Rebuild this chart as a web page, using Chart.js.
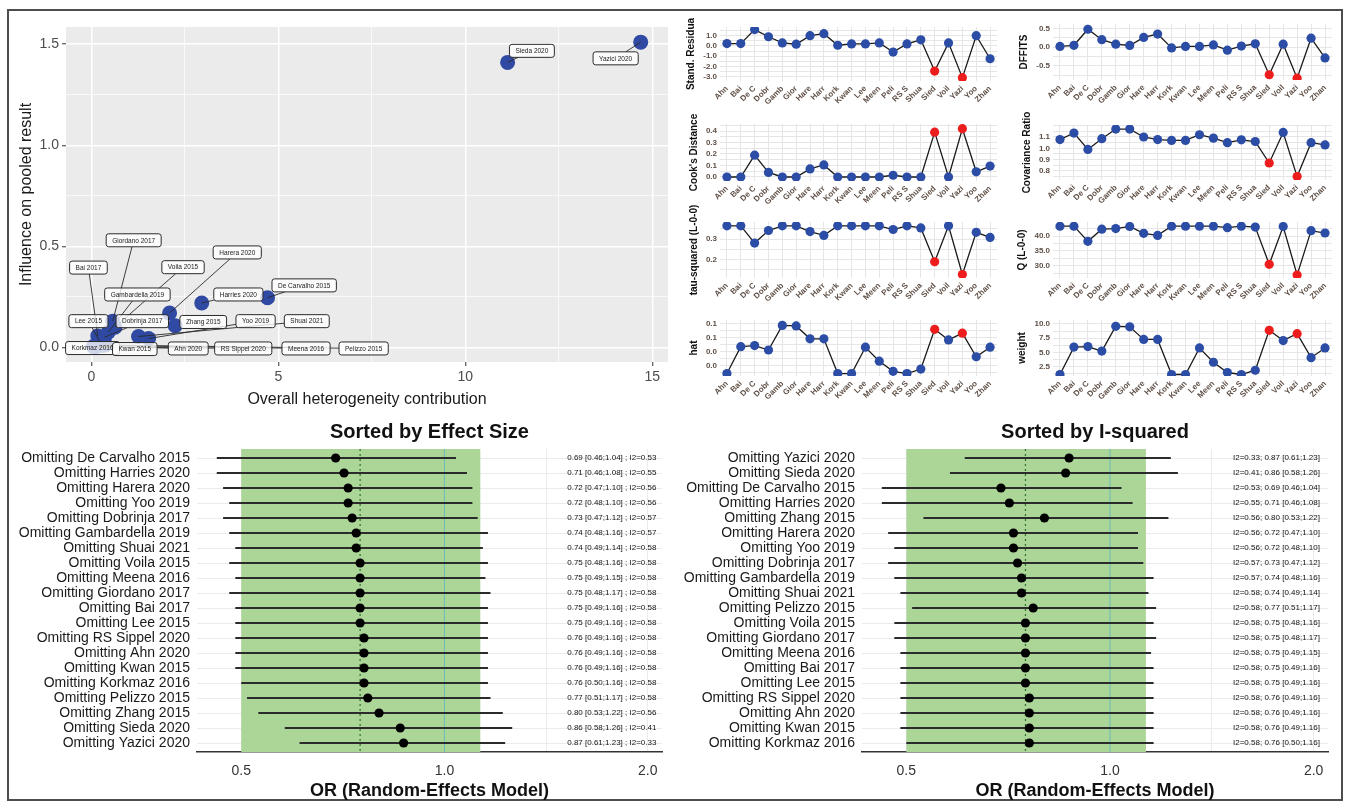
<!DOCTYPE html>
<html>
<head>
<meta charset="utf-8">
<title>Influence analysis</title>
<script src="https://cdn.jsdelivr.net/npm/chart.js@4.4.1/dist/chart.umd.min.js"></script>
<style>
  html, body { margin: 0; padding: 0; background: #fff; }
  body { position: relative; width: 1349px; height: 803px; overflow: hidden; }
  #frame { position: absolute; left: 7px; top: 9px; width: 1336px; height: 792px; box-sizing: border-box; border: 2px solid #4d4d4d; }
  canvas { position: absolute; left: 0; top: 0; }
</style>
</head>
<body>
<div id="frame"></div>
<script>
// ── influence analysis figure: Baujat plot, diagnostics, leave-one-out forests ──

const FONT = "'Liberation Sans', Arial, Helvetica, sans-serif";
const W = 1349, H = 803;
Chart.defaults.font.family = FONT;

// studies in alphabetical order (order of the diagnostic panels)
const studies = ['Ahn 2020', 'Bai 2017', 'De Carvalho 2015', 'Dobrinja 2017', 'Gambardella 2019',
    'Giordano 2017', 'Harera 2020', 'Harries 2020', 'Korkmaz 2016', 'Kwan 2015', 'Lee 2015',
    'Meena 2016', 'Pelizzo 2015', 'RS Sippel 2020', 'Shuai 2021', 'Sieda 2020', 'Voila 2015',
    'Yazici 2020', 'Yoo 2019', 'Zhang 2015'];
const shortLabels = ['Ahn', 'Bai', 'De C', 'Dobr', 'Gamb', 'Gior', 'Hare', 'Harr', 'Kork', 'Kwan',
    'Lee', 'Meen', 'Peli', 'RS S', 'Shua', 'Sied', 'Voil', 'Yazi', 'Yoo', 'Zhan'];
const isOutlier = [false, false, false, false, false, false, false, false, false, false,
    false, false, false, false, false, true, false, true, false, false];

// Baujat plot
const hetContrib = [0.12, 0.17, 4.71, 0.35, 0.45, 0.57, 2.09, 2.95, 0.05, 0.10,
    0.22, 0.28, 0.38, 0.08, 1.26, 11.13, 0.63, 14.69, 1.53, 2.24];
const influence = [0.004, 0.057, 0.246, 0.050, 0.075, 0.130, 0.170, 0.220, 0.005, 0.003,
    0.030, 0.010, 0.012, 0.003, 0.054, 1.410, 0.100, 1.510, 0.044, 0.107];
// where the repelled label boxes sit, in data units
const labelX = [2.59, -0.08, 5.69, 1.36, 1.23, 1.13, 3.90, 3.93, 0.03, 1.16,
    -0.08, 5.74, 7.28, 4.06, 5.76, 11.78, 2.45, 14.02, 4.39, 2.99];
const labelY = [-0.005, 0.395, 0.307, 0.130, 0.262, 0.530, 0.470, 0.262, -0.003, -0.008,
    0.130, -0.005, -0.005, -0.005, 0.130, 1.467, 0.397, 1.430, 0.130, 0.126];
const baujatXTicks = [0, 5, 10, 15];
const baujatYTicks = [0, 0.5, 1.0, 1.5];

// influence diagnostics
const stdResid = [0.23, 0.23, 1.60, 0.90, 0.30, 0.17, 1.00, 1.20, 0.07, 0.20,
    0.20, 0.30, -0.60, 0.20, 0.60, -2.45, 0.30, -3.10, 1.00, -1.25];
const dffits = [0.02, 0.05, 0.48, 0.20, 0.08, 0.045, 0.26, 0.35, -0.02, 0.02,
    0.02, 0.06, -0.08, 0.03, 0.09, -0.74, 0.08, -0.83, 0.24, -0.29];
const cooksD = [0.0, 0.0, 0.19, 0.04, 0.0, 0.0, 0.07, 0.105, 0.0, 0.0,
    0.0, 0.0, 0.015, 0.0, 0.0, 0.39, 0.0, 0.42, 0.045, 0.095];
const covRatio = [1.077, 1.135, 0.99, 1.085, 1.17, 1.17, 1.10, 1.077, 1.07, 1.07,
    1.12, 1.09, 1.05, 1.075, 1.06, 0.87, 1.14, 0.75, 1.05, 1.03];
const tau2 = [0.365, 0.365, 0.280, 0.342, 0.365, 0.365, 0.337, 0.318, 0.365, 0.365,
    0.365, 0.365, 0.347, 0.365, 0.355, 0.188, 0.365, 0.125, 0.333, 0.308];
const qStat = [43.3, 43.3, 38.2, 42.3, 42.5, 43.2, 40.9, 40.2, 43.3, 43.3,
    43.3, 43.3, 42.8, 43.3, 43.0, 30.5, 43.2, 26.9, 41.8, 41.0];
const hatVal = [0.011, 0.059, 0.061, 0.053, 0.097, 0.096, 0.073, 0.073, 0.011, 0.011,
    0.058, 0.033, 0.015, 0.011, 0.019, 0.090, 0.071, 0.083, 0.041, 0.058];
const weightPct = [1.15, 5.95, 6.05, 5.25, 9.6, 9.5, 7.3, 7.3, 1.15, 1.15,
    5.8, 3.3, 1.5, 1.15, 1.9, 8.9, 7.1, 8.3, 4.1, 5.8];

const srTicks = [-3, -2, -1, 0, 1],          srLabels = ['-3.0', '-2.0', '-1.0', '0.0', '1.0'];
const dfTicks = [-0.5, 0, 0.5],              dfLabels = ['-0.5', '0.0', '0.5'];
const cookTicks = [0, 0.1, 0.2, 0.3, 0.4],   cookLabels = ['0.0', '0.1', '0.2', '0.3', '0.4'];
const covTicks = [0.8, 0.9, 1.0, 1.1],       covLabels = ['0.8', '0.9', '1.0', '1.1'];
const tauTicks = [0.2, 0.3],                 tauLabels = ['0.2', '0.3'];
const qTicks = [30, 35, 40],                 qLabels = ['30.0', '35.0', '40.0'];
const hatTicks = [0.025, 0.05, 0.075, 0.1],  hatLabels = ['0.0', '0.0', '0.1', '0.1'];
const wTicks = [2.5, 5, 7.5, 10],            wLabels = ['2.5', '5.0', '7.5', '10.0'];

// leave-one-out results (study order)
const looEst = [0.76, 0.75, 0.69, 0.73, 0.74, 0.75, 0.72, 0.71, 0.76, 0.76,
    0.75, 0.75, 0.77, 0.76, 0.74, 0.86, 0.75, 0.87, 0.72, 0.80];
const looLow = [0.49, 0.49, 0.46, 0.47, 0.48, 0.48, 0.47, 0.46, 0.50, 0.49,
    0.49, 0.49, 0.51, 0.49, 0.49, 0.58, 0.48, 0.61, 0.48, 0.53];
const looUp = [1.16, 1.16, 1.04, 1.12, 1.16, 1.17, 1.10, 1.08, 1.16, 1.16,
    1.16, 1.15, 1.17, 1.16, 1.14, 1.26, 1.16, 1.23, 1.10, 1.22];
const looI2 = [0.58, 0.58, 0.53, 0.57, 0.57, 0.58, 0.56, 0.55, 0.58, 0.58,
    0.58, 0.58, 0.58, 0.58, 0.58, 0.41, 0.58, 0.33, 0.56, 0.56];
const orderByEffect = ['De Carvalho 2015', 'Harries 2020', 'Harera 2020', 'Yoo 2019', 'Dobrinja 2017',
    'Gambardella 2019', 'Shuai 2021', 'Voila 2015', 'Meena 2016', 'Giordano 2017', 'Bai 2017',
    'Lee 2015', 'RS Sippel 2020', 'Ahn 2020', 'Kwan 2015', 'Korkmaz 2016', 'Pelizzo 2015',
    'Zhang 2015', 'Sieda 2020', 'Yazici 2020'];
const orderByI2 = ['Yazici 2020', 'Sieda 2020', 'De Carvalho 2015', 'Harries 2020', 'Zhang 2015',
    'Harera 2020', 'Yoo 2019', 'Dobrinja 2017', 'Gambardella 2019', 'Shuai 2021', 'Pelizzo 2015',
    'Voila 2015', 'Giordano 2017', 'Meena 2016', 'Bai 2017', 'Lee 2015', 'RS Sippel 2020',
    'Ahn 2020', 'Kwan 2015', 'Korkmaz 2016'];
const pooledEst = 0.75, pooledLow = 0.50, pooledUp = 1.13;
const orTicks = [0.5, 1.0, 2.0], orLabels = ['0.5', '1.0', '2.0'];

// ── helpers ──────────────────────────────────────────────────────────────────

function newCanvas() {
    const c = document.createElement('canvas');
    c.width = W; c.height = H;
    c.style.width = W + 'px'; c.style.height = H + 'px';
    document.body.appendChild(c);
    return c.getContext('2d');
}

function initPad(a) {
    return {
        left: Math.max(0, a.left - 80), top: Math.max(0, a.top - 4),
        right: Math.max(0, W - a.right - 4), bottom: Math.max(0, H - a.bottom - 70)
    };
}

// nudge layout padding until the plot area lands on the wanted box
function fitArea(chart, t) {
    for (let k = 0; k < 3; k++) {
        const a = chart.chartArea;
        const p = chart.config.options.layout.padding;
        chart.config.options.layout.padding = {
            left: p.left + (t.left - a.left), top: p.top + (t.top - a.top),
            right: p.right + (a.right - t.right), bottom: p.bottom + (a.bottom - t.bottom)
        };
        chart.update();
    }
}

// major ticks plus ggplot-style minor grid halfway between them
function tickSet(majors, labels, lo, hi) {
    const step = majors.length > 1 ? majors[1] - majors[0] : 1;
    const out = [];
    for (let v = majors[0] - step; v <= majors[majors.length - 1] + step + 1e-9; v += step / 2) {
        const val = +v.toFixed(6);
        if (val < lo || val > hi) continue;
        const mi = majors.findIndex(m => Math.abs(m - val) < 1e-9);
        out.push({ value: val, isMinor: mi < 0, lbl: mi < 0 ? '' : labels[mi] });
    }
    return out;
}

const TICK_BROWN = '#5f5047';

// ── diagnostic panels ───────────────────────────────────────────────────────

function diagPanel(values, title, area, yMin, yMax, majors, majorLabels) {
    const ticks = tickSet(majors, majorLabels, yMin, yMax);
    const chart = new Chart(newCanvas(), {
        type: 'line',
        data: {
            labels: shortLabels,
            datasets: [{
                data: values,
                borderColor: '#1a1a1a',
                borderWidth: 1.3,
                tension: 0,
                fill: false,
                pointRadius: 4.6,
                pointHoverRadius: 4.6,
                pointBorderWidth: 0,
                pointBackgroundColor: isOutlier.map(o => o ? '#ee1d1d' : '#2c4da6')
            }]
        },
        options: {
            responsive: false, animation: false, devicePixelRatio: 1,
            layout: { padding: initPad(area) },
            plugins: { legend: { display: false }, tooltip: { enabled: false } },
            scales: {
                x: {
                    type: 'category', offset: true,
                    grid: { offset: false, color: '#e6e6e6', lineWidth: 1, drawTicks: false },
                    border: { display: false },
                    ticks: {
                        autoSkip: false, minRotation: 45, maxRotation: 45, padding: 3,
                        color: TICK_BROWN, font: { size: 8, weight: 'bold' }
                    }
                },
                y: {
                    min: yMin, max: yMax,
                    afterBuildTicks: s => { s.ticks = ticks.map(t => Object.assign({}, t)); },
                    grid: { color: '#e6e6e6', lineWidth: 1, drawTicks: false },
                    border: { display: false },
                    ticks: {
                        autoSkip: false, padding: 3, color: TICK_BROWN, font: { size: 8, weight: 'bold' },
                        callback: (v, i, tk) => tk[i].lbl || ''
                    },
                    title: {
                        display: true, text: title, color: '#111',
                        font: { size: 10, weight: 'bold' }, padding: { top: 0, bottom: 3 }
                    }
                }
            }
        }
    });
    fitArea(chart, area);
}

diagPanel(stdResid, 'Stand. Residua', { left: 720, right: 997, top: 27, bottom: 81 }, -3.42, 1.85, srTicks, srLabels);
diagPanel(cooksD, "Cook's Distance", { left: 720, right: 997, top: 124, bottom: 181 }, -0.035, 0.461, cookTicks, cookLabels);
diagPanel(tau2, 'tau-squared (L-0-0)', { left: 720, right: 997, top: 222, bottom: 278 }, 0.108, 0.384, tauTicks, tauLabels);
diagPanel(hatVal, 'hat', { left: 720, right: 997, top: 320, bottom: 376 }, 0.0066, 0.1066, hatTicks, hatLabels);
diagPanel(dffits, 'DFFITS', { left: 1053, right: 1332, top: 24, bottom: 80 }, -0.88, 0.62, dfTicks, dfLabels);
diagPanel(covRatio, 'Covariance Ratio', { left: 1053, right: 1332, top: 125, bottom: 180 }, 0.72, 1.206, covTicks, covLabels);
diagPanel(qStat, 'Q (L-0-0)', { left: 1053, right: 1332, top: 222, bottom: 278 }, 25.9, 44.7, qTicks, qLabels);
diagPanel(weightPct, 'weight', { left: 1053, right: 1332, top: 320, bottom: 376 }, 0.89, 10.7, wTicks, wLabels);

// ── Baujat plot ─────────────────────────────────────────────────────────────

const panelBg = {
    id: 'panelBg',
    beforeDraw(chart) {
        const { ctx, chartArea: a } = chart;
        ctx.save();
        ctx.fillStyle = '#ebebeb';
        ctx.fillRect(a.left, a.top, a.right - a.left, a.bottom - a.top);
        ctx.restore();
    }
};

const repelLabels = {
    id: 'repelLabels',
    afterDatasetsDraw(chart) {
        const { ctx, scales: { x, y } } = chart;
        ctx.save();
        ctx.font = '6.5px ' + FONT;
        const boxes = studies.map((name, i) => {
            const w = ctx.measureText(name).width + 12, h = 13;
            return {
                name, w, h,
                cx: x.getPixelForValue(labelX[i]), cy: y.getPixelForValue(labelY[i]),
                px: x.getPixelForValue(hetContrib[i]), py: y.getPixelForValue(influence[i])
            };
        });
        // leader segments from the box edge to the point
        ctx.strokeStyle = '#2a2a2a';
        ctx.lineWidth = 0.9;
        boxes.forEach(b => {
            const dx = b.px - b.cx, dy = b.py - b.cy;
            const tx = dx ? (b.w / 2) / Math.abs(dx) : Infinity;
            const ty = dy ? (b.h / 2) / Math.abs(dy) : Infinity;
            const t = Math.min(tx, ty);
            if (t >= 1) return;
            const ex = b.cx + dx * t, ey = b.cy + dy * t;
            if (Math.hypot(b.px - ex, b.py - ey) < 9) return;
            ctx.beginPath();
            ctx.moveTo(ex, ey);
            ctx.lineTo(b.px, b.py);
            ctx.stroke();
        });
        boxes.forEach(b => {
            ctx.beginPath();
            ctx.roundRect(b.cx - b.w / 2, b.cy - b.h / 2, b.w, b.h, 2.5);
            ctx.fillStyle = 'rgba(255,255,255,0.78)';
            ctx.fill();
            ctx.strokeStyle = '#2a2a2a';
            ctx.lineWidth = 1;
            ctx.stroke();
            ctx.fillStyle = '#222';
            ctx.textAlign = 'center';
            ctx.textBaseline = 'middle';
            ctx.fillText(b.name, b.cx, b.cy + 0.5);
        });
        ctx.restore();
    }
};

(function () {
    const area = { left: 66, top: 27, right: 668, bottom: 362 };
    const xTicks = tickSet(baujatXTicks, baujatXTicks.map(String), -0.68, 15.42);
    const yTicks = tickSet(baujatYTicks, baujatYTicks.map(v => v.toFixed(1)), -0.072, 1.585);
    const gridCommon = {
        color: '#ffffff',
        lineWidth: c => (c.tick && c.tick.isMinor) ? 0.7 : 1.5,
        tickColor: c => (c.tick && c.tick.isMinor) ? 'rgba(0,0,0,0)' : '#333',
        tickLength: 4,
        tickWidth: 1
    };
    const chart = new Chart(newCanvas(), {
        type: 'scatter',
        data: {
            datasets: [{
                data: hetContrib.map((v, i) => ({ x: v, y: influence[i] })),
                backgroundColor: '#3049a3',
                borderWidth: 0,
                pointRadius: 7.5,
                pointHoverRadius: 7.5
            }]
        },
        options: {
            responsive: false, animation: false, devicePixelRatio: 1,
            layout: { padding: initPad(area) },
            plugins: { legend: { display: false }, tooltip: { enabled: false } },
            scales: {
                x: {
                    type: 'linear', min: -0.68, max: 15.42,
                    afterBuildTicks: s => { s.ticks = xTicks.map(t => Object.assign({}, t)); },
                    grid: gridCommon,
                    border: { display: false },
                    ticks: { padding: 3, color: '#4d4d4d', font: { size: 14 }, callback: (v, i, tk) => tk[i].lbl },
                    title: {
                        display: true, text: 'Overall heterogeneity contribution',
                        color: '#1a1a1a', font: { size: 16 }, padding: { top: 1, bottom: 0 }
                    }
                },
                y: {
                    type: 'linear', min: -0.072, max: 1.585,
                    afterBuildTicks: s => { s.ticks = yTicks.map(t => Object.assign({}, t)); },
                    grid: gridCommon,
                    border: { display: false },
                    ticks: { padding: 3, color: '#4d4d4d', font: { size: 14 }, callback: (v, i, tk) => tk[i].lbl },
                    title: {
                        display: true, text: 'Influence on pooled result',
                        color: '#1a1a1a', font: { size: 16 }, padding: { top: 0, bottom: 0 }
                    }
                }
            }
        },
        plugins: [panelBg, repelLabels]
    });
    fitArea(chart, area);
})();

// ── leave-one-out forest plots ──────────────────────────────────────────────

const forestDecor = {
    id: 'forestDecor',
    beforeDatasetsDraw(chart) {
        const { ctx, chartArea: a, scales: { x } } = chart;
        ctx.save();
        const l = x.getPixelForValue(pooledLow), r = x.getPixelForValue(pooledUp);
        ctx.fillStyle = '#acd598';
        ctx.fillRect(l, a.top, r - l, a.bottom - a.top);
        const one = x.getPixelForValue(1);
        ctx.strokeStyle = '#6cbcb3';
        ctx.lineWidth = 1;
        ctx.beginPath(); ctx.moveTo(one, a.top); ctx.lineTo(one, a.bottom); ctx.stroke();
        const p = x.getPixelForValue(pooledEst);
        ctx.strokeStyle = '#2f6f2f';
        ctx.lineWidth = 1.2;
        ctx.setLineDash([2, 3]);
        ctx.beginPath(); ctx.moveTo(p, a.top); ctx.lineTo(p, a.bottom); ctx.stroke();
        ctx.restore();
    },
    afterDatasetsDraw(chart, args, opts) {
        const { ctx, chartArea: a, scales: { x, y } } = chart;
        ctx.save();
        ctx.font = '8px ' + FONT;
        ctx.fillStyle = '#111';
        ctx.textAlign = 'left';
        ctx.textBaseline = 'middle';
        opts.texts.forEach((t, r) => ctx.fillText(t, x.getPixelForValue(opts.at), y.getPixelForValue(r)));
        ctx.font = 'bold 20px ' + FONT;
        ctx.textAlign = 'center';
        ctx.fillText(opts.heading, (a.left + a.right) / 2, a.top - 17);
        ctx.restore();
    }
};

function forestPanel(order, heading, area, textFn) {
    const rows = order.map(name => studies.indexOf(name));
    // log axis: minor grid sits at the geometric midpoints
    const xTicksLog = [0.5, Math.SQRT1_2, 1, Math.SQRT2, 2].map(v => {
        const mi = orTicks.indexOf(v);
        return { value: v, isMinor: mi < 0, lbl: mi < 0 ? '' : orLabels[mi] };
    });
    const datasets = [{
        data: rows.map((s, r) => ({ x: looEst[s], y: r })),
        backgroundColor: '#000',
        borderWidth: 0,
        pointRadius: 4.6,
        pointHoverRadius: 4.6
    }];
    rows.forEach((s, r) => datasets.push({
        data: [{ x: looLow[s], y: r }, { x: looUp[s], y: r }],
        showLine: true,
        borderColor: '#2b2b2b',
        borderWidth: 2,
        pointRadius: 0,
        pointHoverRadius: 0
    }));
    const chart = new Chart(newCanvas(), {
        type: 'scatter',
        data: { datasets },
        options: {
            responsive: false, animation: false, devicePixelRatio: 1,
            layout: { padding: initPad(area) },
            plugins: {
                legend: { display: false }, tooltip: { enabled: false },
                forestDecor: { texts: rows.map(textFn), at: 1.52, heading }
            },
            scales: {
                x: {
                    type: 'logarithmic', min: 0.43, max: 2.1,
                    afterBuildTicks: s => { s.ticks = xTicksLog.map(t => Object.assign({}, t)); },
                    afterFit: s => { s.height = 50; },
                    grid: { color: '#ebebeb', lineWidth: 1, drawTicks: false },
                    border: { display: true, color: '#333', width: 1.6 },
                    ticks: { padding: 11, color: '#333', font: { size: 14 }, callback: (v, i, tk) => tk[i].lbl },
                    title: {
                        display: true, text: 'OR (Random-Effects Model)', color: '#111',
                        font: { size: 18, weight: 'bold' }, padding: { top: 0, bottom: 0 }
                    }
                },
                y: {
                    type: 'linear', reverse: true, min: -0.6, max: 19.6,
                    afterBuildTicks: s => { s.ticks = rows.map((_, r) => ({ value: r })); },
                    grid: { color: '#ebebeb', lineWidth: 1, drawTicks: false },
                    border: { display: false },
                    ticks: {
                        autoSkip: false, padding: 7, color: '#1a1a1a', font: { size: 14 },
                        callback: (v, i) => 'Omitting ' + order[i]
                    }
                }
            }
        },
        plugins: [forestDecor]
    });
    fitArea(chart, area);
}

forestPanel(orderByEffect, 'Sorted by Effect Size', { left: 197, top: 449, right: 662, bottom: 752 },
    s => `${looEst[s].toFixed(2)} [${looLow[s].toFixed(2)};${looUp[s].toFixed(2)}] ; I2=${looI2[s].toFixed(2)}`);
forestPanel(orderByI2, 'Sorted by I-squared', { left: 862, top: 449, right: 1328, bottom: 752 },
    s => `I2=${looI2[s].toFixed(2)}; ${looEst[s].toFixed(2)} [${looLow[s].toFixed(2)};${looUp[s].toFixed(2)}]`);
</script>
</body>
</html>
